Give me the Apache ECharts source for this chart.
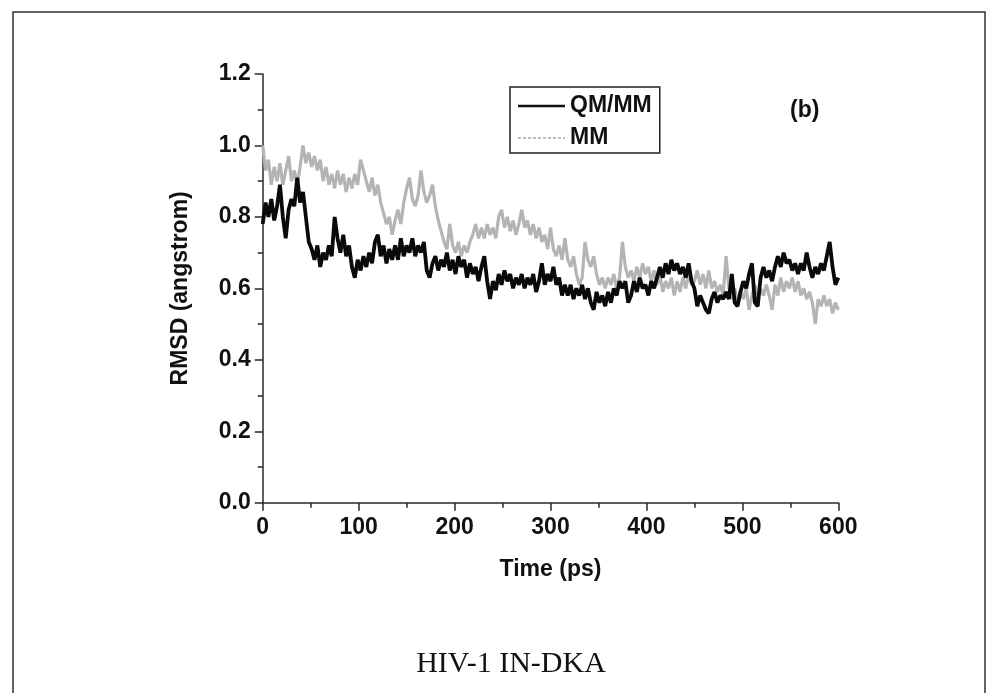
<!DOCTYPE html>
<html>
<head>
<meta charset="utf-8">
<script src="https://cdn.jsdelivr.net/npm/echarts@6/dist/echarts.min.js"></script>
<style>
html,body{margin:0;padding:0;background:#fff;}
#chart{width:998px;height:693px;}
</style>
</head>
<body>
<div id="chart"></div>
<script>
var timeStep = 3;
var qmmm = [
    0.78, 0.84, 0.80, 0.85, 0.79, 0.83,
    0.89, 0.80, 0.74, 0.82, 0.85,
    0.83, 0.91, 0.84, 0.87, 0.80,
    0.73, 0.71, 0.68, 0.72, 0.66,
    0.70, 0.68, 0.72, 0.69, 0.80,
    0.74, 0.70, 0.75, 0.69, 0.72,
    0.66, 0.63, 0.68, 0.65, 0.69,
    0.66, 0.70, 0.67, 0.73, 0.75,
    0.69, 0.72, 0.67, 0.71, 0.68,
    0.72, 0.68, 0.74, 0.69, 0.72,
    0.70, 0.74, 0.69, 0.72, 0.70,
    0.73, 0.65, 0.63, 0.67, 0.69,
    0.65, 0.68, 0.66, 0.70, 0.65,
    0.68, 0.64, 0.69, 0.66, 0.68,
    0.63, 0.67, 0.64, 0.66, 0.62,
    0.66, 0.69, 0.62, 0.57, 0.62,
    0.595, 0.64, 0.61, 0.65, 0.62,
    0.64, 0.60, 0.63, 0.61, 0.64,
    0.60, 0.63, 0.61, 0.64, 0.59,
    0.62, 0.67, 0.61, 0.64, 0.62,
    0.66, 0.61, 0.63, 0.58, 0.61,
    0.58, 0.61, 0.57, 0.60, 0.58,
    0.61, 0.57, 0.60, 0.56, 0.54,
    0.59, 0.56, 0.58, 0.55, 0.59,
    0.56, 0.60, 0.58, 0.62, 0.60,
    0.62, 0.56, 0.58, 0.62, 0.59,
    0.63, 0.60, 0.61, 0.58, 0.62,
    0.60, 0.63, 0.66, 0.63, 0.67,
    0.64, 0.68, 0.65, 0.67, 0.64,
    0.66, 0.63, 0.67, 0.62, 0.60,
    0.55, 0.58, 0.56, 0.54, 0.53,
    0.57, 0.59, 0.56, 0.58, 0.57,
    0.59, 0.57, 0.64, 0.56, 0.55,
    0.59, 0.62, 0.60, 0.64, 0.67,
    0.56, 0.55, 0.63, 0.66, 0.63,
    0.65, 0.62, 0.66, 0.69, 0.66,
    0.70, 0.67, 0.68, 0.65, 0.67,
    0.64, 0.67, 0.65, 0.70, 0.66,
    0.63, 0.66, 0.64, 0.67, 0.65,
    0.69, 0.73, 0.66, 0.61, 0.63
];
var mm = [
    1.00, 0.93, 0.96, 0.89, 0.94, 0.90,
    0.95, 0.89, 0.93, 0.97, 0.90,
    0.93, 0.89, 0.94, 1.00, 0.95,
    0.98, 0.94, 0.97, 0.93, 0.96,
    0.90, 0.94, 0.89, 0.92, 0.88,
    0.93, 0.89, 0.92, 0.87, 0.91,
    0.88, 0.92, 0.89, 0.96, 0.93,
    0.90, 0.87, 0.91, 0.86, 0.89,
    0.84, 0.81, 0.78, 0.80, 0.75,
    0.79, 0.82, 0.78, 0.84, 0.88,
    0.91, 0.85, 0.83, 0.86, 0.93,
    0.87, 0.84, 0.86, 0.89, 0.83,
    0.79, 0.76, 0.73, 0.71, 0.78,
    0.72, 0.70, 0.73, 0.69, 0.72,
    0.70, 0.73, 0.75, 0.78, 0.74,
    0.77, 0.74, 0.78, 0.75, 0.77,
    0.74, 0.80, 0.82, 0.77, 0.80,
    0.76, 0.79, 0.75, 0.78, 0.82,
    0.77, 0.79, 0.75, 0.78, 0.74,
    0.77, 0.73, 0.75, 0.71, 0.77,
    0.71, 0.69, 0.72, 0.68, 0.74,
    0.68, 0.66, 0.69, 0.64, 0.61,
    0.63, 0.73, 0.68, 0.66, 0.69,
    0.64, 0.61, 0.63, 0.60, 0.63,
    0.61, 0.64, 0.60, 0.63, 0.73,
    0.66, 0.63, 0.65, 0.62, 0.66,
    0.63, 0.67, 0.64, 0.66, 0.62,
    0.65, 0.61, 0.64, 0.59, 0.62,
    0.60, 0.63, 0.58, 0.62, 0.59,
    0.63, 0.60, 0.64, 0.61, 0.62,
    0.65, 0.61, 0.64, 0.60, 0.65,
    0.60, 0.62, 0.59, 0.61, 0.58,
    0.69, 0.60, 0.57, 0.60, 0.56,
    0.59, 0.57, 0.60, 0.54, 0.58,
    0.61, 0.57, 0.60, 0.58, 0.61,
    0.58, 0.54, 0.61, 0.58, 0.63,
    0.59, 0.62, 0.60, 0.63, 0.59,
    0.62, 0.58, 0.60, 0.57, 0.59,
    0.56, 0.50, 0.57, 0.55, 0.58,
    0.55, 0.57, 0.53, 0.56, 0.54
];
var seriesNames = ['QM/MM', 'MM'];
var caption = 'HIV-1 IN-DKA';
var panelTag = '(b)';

function toPairs(values) {
    return values.map(function (v, i) { return [i * timeStep, v]; });
}

var font = 'Liberation Sans, Arial, sans-serif';
var axisCol = '#2a2a2a';
var chart = echarts.init(document.getElementById('chart'));

chart.setOption({
    animation: false,
    backgroundColor: '#fff',
    grid: { left: 262.7, right: 159.7, top: 74, bottom: 190.3 },
    xAxis: {
        type: 'value',
        min: 0, max: 600, interval: 100,
        name: 'Time (ps)',
        nameLocation: 'middle',
        nameGap: 55,
        nameTextStyle: { fontFamily: font, fontWeight: 'bold', fontSize: 23, color: '#111' },
        axisLine: { lineStyle: { color: axisCol, width: 1.5 } },
        axisTick: { length: 8, lineStyle: { color: axisCol, width: 1.5 } },
        minorTick: { show: true, splitNumber: 2, length: 5, lineStyle: { color: axisCol, width: 1.5 } },
        axisLabel: { margin: 13, fontFamily: font, fontWeight: 'bold', fontSize: 23, color: '#111' },
        splitLine: { show: false }
    },
    yAxis: {
        type: 'value',
        min: 0, max: 1.2, interval: 0.2,
        name: 'RMSD (angstrom)',
        nameLocation: 'middle',
        nameGap: 71,
        nameTextStyle: { fontFamily: font, fontWeight: 'bold', fontSize: 23, color: '#111' },
        axisLine: { show: true, lineStyle: { color: axisCol, width: 1.5 } },
        axisTick: { show: true, length: 8, lineStyle: { color: axisCol, width: 1.5 } },
        minorTick: { show: true, splitNumber: 2, length: 5, lineStyle: { color: axisCol, width: 1.5 } },
        axisLabel: {
            margin: 12, fontFamily: font, fontWeight: 'bold', fontSize: 23, color: '#111',
            formatter: function (v) { return v.toFixed(1); }
        },
        splitLine: { show: false }
    },
    legend: {
        orient: 'vertical',
        left: 510, top: 87,
        padding: [7, 8, 3, 8],
        itemGap: 8,
        itemWidth: 47, itemHeight: 14,
        borderColor: '#222', borderWidth: 1.5,
        textStyle: { fontFamily: font, fontWeight: 'bold', fontSize: 23, color: '#111', lineHeight: 24 },
        data: [
            { name: seriesNames[0], icon: 'path://M0,5.8 L47,5.8 L47,8.2 L0,8.2 Z', itemStyle: { color: '#111' } },
            {
                name: seriesNames[1],
                icon: 'path://M0,6.3 L3,6.3 L3,7.7 L0,7.7 Z M5,6.3 L8,6.3 L8,7.7 L5,7.7 Z M10,6.3 L13,6.3 L13,7.7 L10,7.7 Z M15,6.3 L18,6.3 L18,7.7 L15,7.7 Z M20,6.3 L23,6.3 L23,7.7 L20,7.7 Z M25,6.3 L28,6.3 L28,7.7 L25,7.7 Z M30,6.3 L33,6.3 L33,7.7 L30,7.7 Z M35,6.3 L38,6.3 L38,7.7 L35,7.7 Z M40,6.3 L43,6.3 L43,7.7 L40,7.7 Z M45,6.3 L47,6.3 L47,7.7 L45,7.7 Z',
                itemStyle: { color: '#a8a8a8' }
            }
        ]
    },
    graphic: [
        {
            type: 'rect',
            shape: { x: 13, y: 12, width: 972, height: 720 },
            style: { fill: 'none', stroke: '#333', lineWidth: 1.5 },
            silent: true
        },
        {
            type: 'text', left: 790, top: 99,
            style: { text: panelTag, fontFamily: font, fontWeight: 'bold', fontSize: 23, fill: '#111' }
        },
        {
            type: 'text', x: 511, y: 664,
            style: {
                text: caption, fontFamily: 'Liberation Serif, Times New Roman, serif', fontSize: 30,
                fill: '#111', align: 'center', verticalAlign: 'middle'
            }
        }
    ],
    series: [
        {
            name: seriesNames[1],
            type: 'line',
            data: toPairs(mm),
            showSymbol: false,
            lineStyle: { color: '#b4b4b4', width: 3.2 },
            itemStyle: { color: '#b4b4b4' },
            z: 2
        },
        {
            name: seriesNames[0],
            type: 'line',
            data: toPairs(qmmm),
            showSymbol: false,
            lineStyle: { color: '#0a0a0a', width: 3.8 },
            itemStyle: { color: '#0a0a0a' },
            z: 3
        }
    ]
});
</script>
</body>
</html>
